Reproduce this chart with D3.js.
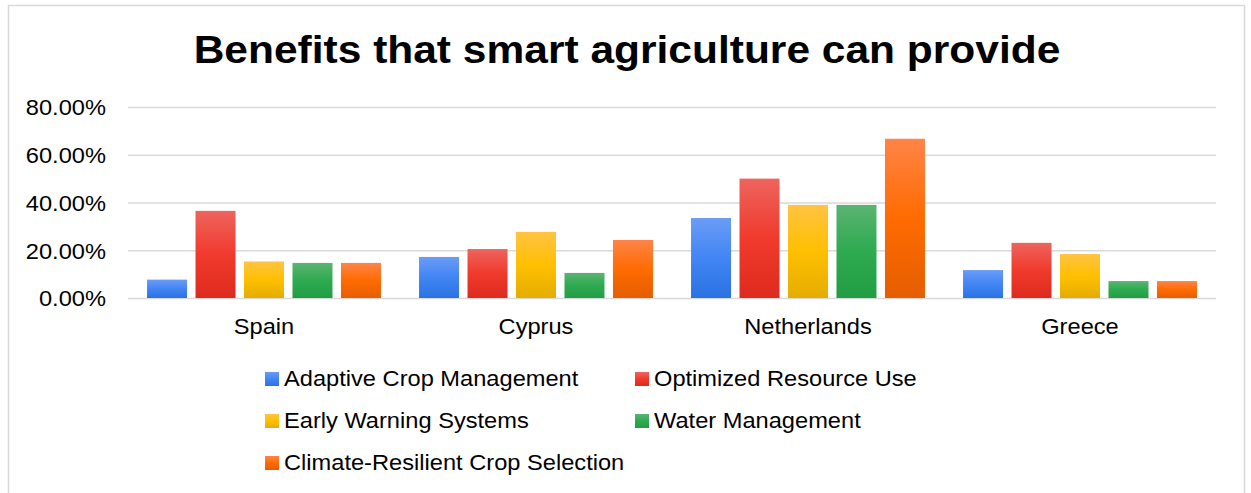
<!DOCTYPE html>
<html><head><meta charset="utf-8">
<script src="https://cdn.jsdelivr.net/npm/d3@7"></script>
<style>
html,body{margin:0;padding:0;background:#fff;}
svg{display:block;font-family:"Liberation Sans",Arial,sans-serif;}
</style></head>
<body>
<svg id="chart" width="1251" height="493"></svg>
<script>
const categories = ["Spain", "Cyprus", "Netherlands", "Greece"];
const seriesNames = ["Adaptive Crop Management", "Optimized Resource Use", "Early Warning Systems", "Water Management", "Climate-Resilient Crop Selection"];
const adaptiveCrop = [0.077, 0.172, 0.335, 0.117];
const optimizedResource = [0.365, 0.205, 0.50, 0.231];
const earlyWarning = [0.153, 0.277, 0.39, 0.184];
const waterManagement = [0.147, 0.105, 0.39, 0.071];
const climateResilient = [0.147, 0.243, 0.667, 0.071];
const yTicks = [0, 0.2, 0.4, 0.6, 0.8];
const titleText = "Benefits that smart agriculture can provide";

const seriesValues = [adaptiveCrop, optimizedResource, earlyWarning, waterManagement, climateResilient];
const colorStops = [
  ["#6a9cf6", "#4285f4", "#2a72e2"],
  ["#ee645d", "#f03a2e", "#de2b1e"],
  ["#ffc343", "#ffc000", "#e5ac00"],
  ["#5bb472", "#2eaa50", "#229d44"],
  ["#ff8448", "#ff6b00", "#e55e00"]
];
const SX = 1.075;

const svg = d3.select("#chart");
const W = 1251, H = 493;
const plot = {left: 128, right: 1216, top: 107, bottom: 298};

// gradients
const defs = svg.append("defs");
colorStops.forEach((c, i) => {
  const g = defs.append("linearGradient").attr("id", "grad" + i)
    .attr("x1", 0).attr("y1", 0).attr("x2", 0).attr("y2", 1);
  g.append("stop").attr("offset", "0%").attr("stop-color", c[0]);
  g.append("stop").attr("offset", "50%").attr("stop-color", c[1]);
  g.append("stop").attr("offset", "100%").attr("stop-color", c[2]);
});

// border
svg.append("rect").attr("x", 8.5).attr("y", 5.5).attr("width", 1236).attr("height", 500)
  .attr("fill", "#fff").attr("stroke", "#d9d9d9").attr("stroke-width", 1.5);

// title
svg.append("text").attr("transform", `translate(627,63) scale(1.09,1)`)
  .attr("text-anchor", "middle").attr("font-size", 39).attr("font-weight", "bold")
  .attr("fill", "#000").text(titleText);

const y = d3.scaleLinear().domain([0, 0.8]).range([plot.bottom, plot.top]);
const x0 = d3.scaleBand().domain(categories).range([plot.left, plot.right])
  .paddingInner(0.14).paddingOuter(0.07);
const x1 = d3.scaleBand().domain(seriesNames).range([0, x0.bandwidth()]).paddingInner(0.175);

// gridlines
const grid = svg.append("g").attr("transform", `translate(${plot.left},0)`)
  .call(d3.axisLeft(y).tickValues(yTicks).tickSize(-(plot.right - plot.left)).tickFormat(""));
grid.select(".domain").remove();
grid.selectAll("line").attr("stroke", "#d9d9d9").attr("stroke-width", 1.5);

// y axis labels
const yAxis = svg.append("g").attr("transform", `translate(106,0)`)
  .call(d3.axisLeft(y).tickValues(yTicks).tickSize(0).tickPadding(0).tickFormat(d3.format(".2%")));
yAxis.select(".domain").remove();
yAxis.selectAll("text").attr("font-size", 22).attr("fill", "#000")
  .attr("font-family", "Liberation Sans, Arial, sans-serif")
  .attr("x", 0).attr("dy", "0.36em")
  .attr("transform", `scale(${SX},1)`);

// bars
const groups = svg.append("g").selectAll("g").data(categories).join("g")
  .attr("transform", d => `translate(${x0(d)},0)`);
groups.selectAll("rect").data((d, ci) => seriesNames.map((s, si) => ({s, si, v: seriesValues[si][ci]})))
  .join("rect")
  .attr("x", d => x1(d.s))
  .attr("width", x1.bandwidth())
  .attr("y", d => y(d.v))
  .attr("height", d => y(0) - y(d.v))
  .attr("fill", d => `url(#grad${d.si})`);

// x axis labels
const xAxis = svg.append("g").attr("transform", `translate(0,${plot.bottom})`)
  .call(d3.axisBottom(x0).tickSize(0).tickPadding(0));
xAxis.select(".domain").remove();
xAxis.selectAll("text").attr("font-size", 22).attr("fill", "#000")
  .attr("font-family", "Liberation Sans, Arial, sans-serif")
  .attr("y", 36).attr("dy", 0)
  .attr("transform", `scale(${SX},1)`)
  .attr("x", function(d){ return 0; });

// legend
const legendPos = [[265, 386], [635, 386], [265, 428], [635, 428], [265, 470]];
const legend = svg.append("g").selectAll("g").data(seriesNames).join("g")
  .attr("transform", (d, i) => `translate(${legendPos[i][0]},${legendPos[i][1]})`);
legend.append("rect").attr("x", 0).attr("y", -14).attr("width", 14).attr("height", 14)
  .attr("fill", (d, i) => `url(#grad${i})`);
legend.append("text").attr("transform", `translate(19,0) scale(${SX},1)`)
  .attr("font-size", 22).attr("fill", "#000").text(d => d);
</script>
</body></html>
